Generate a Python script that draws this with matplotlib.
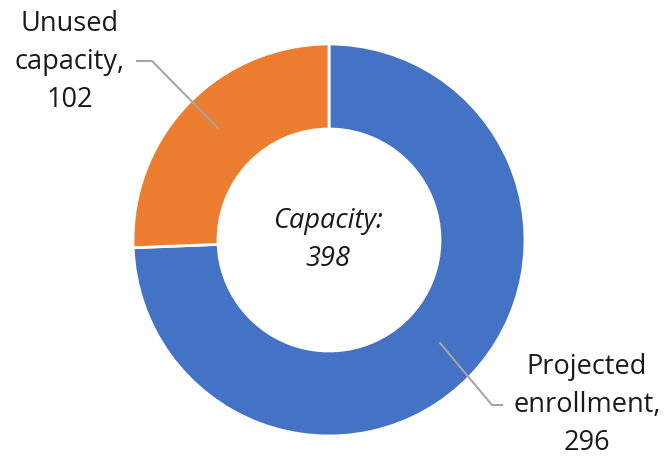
import matplotlib
matplotlib.use("Agg")
import matplotlib.pyplot as plt

labels = ["Projected enrollment", "Unused capacity"]
values = [296, 102]
colors = ["#4472C4", "#ED7D31"]
total_label = "Capacity:\n398"

W, H = 668, 459
fig = plt.figure(figsize=(W / 100, H / 100), dpi=100)
ax = fig.add_axes([0, 0, 1, 1])
ax.set_xlim(0, W)
ax.set_ylim(0, H)
ax.set_aspect("equal")
ax.axis("off")

cx, cy = 329, H - 240
R = 196
ax.pie(values, colors=colors, startangle=90, counterclock=False,
       center=(cx, cy), radius=R,
       wedgeprops=dict(width=85, edgecolor="white", linewidth=2))
ax.set_xlim(0, W)
ax.set_ylim(0, H)

font = "Open Sans"
fs = 19.5
ls = 1.47
tc = "#1a1a1a"

ax.text(cx - 1, H - 240, total_label, ha="center", va="center", fontsize=fs,
        style="italic", family=font, color=tc, linespacing=ls)

# data labels
ax.text(70, H - 62, f"Unused\ncapacity,\n{values[1]}", ha="center", va="center",
        fontsize=fs, family=font, color=tc, linespacing=ls)
ax.text(587, H - 405, f"Projected\nenrollment,\n{values[0]}", ha="center", va="center",
        fontsize=fs, family=font, color=tc, linespacing=ls)

lc = "#A6A6A6"
ax.plot([137, 152, 218], [H - 61, H - 61, H - 128], color=lc, lw=1.5)
ax.plot([440, 492, 502], [H - 343, H - 405, H - 405], color=lc, lw=1.5)

fig.savefig("out.png", dpi=100)
